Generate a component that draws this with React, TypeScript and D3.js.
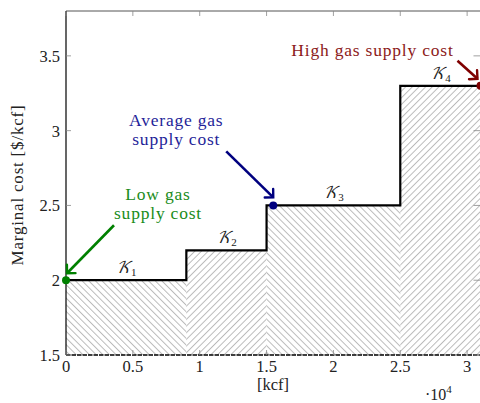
import React from "react";
import * as d3 from "d3";

// ---- data ----
const stepEdges = [0, 9000, 15000, 25000, 31000];
const stepCosts = [2.0, 2.2, 2.5, 3.3];
const stepLabels = ["1", "2", "3", "4"];
const xTicks = [0, 5000, 10000, 15000, 20000, 25000, 30000];
const xTickLabels = ["0", "0.5", "1", "1.5", "2", "2.5", "3"];
const yTicks = [1.5, 2, 2.5, 3, 3.5];
const yTickLabels = ["1.5", "2", "2.5", "3", "3.5"];
const annoNames = ["Low gas|supply cost", "Average gas|supply cost", "High gas supply cost"];
const annoX = [0, 15500, 31000];
const annoY = [2.0, 2.5, 3.3];
const annoColors = ["#008000", "#00007f", "#7f0000"];
const annoTextColors = ["#1a8c1a", "#1f1f99", "#8c1a1a"];

const W = 480, H = 403;
const FONT = "'Liberation Serif', 'DejaVu Serif', serif";

export default function App() {
  const x = d3.scaleLinear().domain([0, 31000]).range([66, 480.5]);
  const y = d3.scaleLinear().domain([1.5, 3.8]).range([355, 11]);
  const [x0, x1] = x.range();
  const [yb, yt] = y.range();

  const pts: [number, number][] = stepCosts.map((c, i) => [stepEdges[i], c]);
  pts.push([stepEdges[stepEdges.length - 1], stepCosts[stepCosts.length - 1]]);
  const stepLine = d3
    .line<[number, number]>()
    .x((d) => x(d[0]))
    .y((d) => y(d[1]))
    .curve(d3.curveStepAfter)(pts);

  // arrow geometry (offsets from target points, px)
  const arrowFrom = [[48, -55], [-47, -54], [-23, -25]];
  const arrowTo = [[1, -7], [0, -8], [-3, -7]];
  const textPos = [[92, -80, -61], [-97, -79, -60], [-108, -30, 0]];

  return (
    <svg width={W} height={H} style={{ position: "absolute", left: 0, top: 0 }} fontFamily={FONT}>
      <defs>
        <pattern id="hatchA" patternUnits="userSpaceOnUse" width={4.7} height={10} patternTransform="rotate(-45)">
          <line x1={0.5} y1={0} x2={0.5} y2={10} stroke="#a8a8a8" strokeWidth={0.8} />
        </pattern>
        <pattern id="hatchB" patternUnits="userSpaceOnUse" width={4.7} height={10} patternTransform="rotate(45)">
          <line x1={0.5} y1={0} x2={0.5} y2={10} stroke="#a8a8a8" strokeWidth={0.8} />
        </pattern>
        {annoColors.map((c, i) => (
          <marker key={i} id={`arr${i}`} viewBox="-10 -10 20 20" markerWidth={20} markerHeight={20}
            refX={0} refY={0} orient="auto" markerUnits="userSpaceOnUse">
            <path d="M-6,-6 L0,0 L-6,6" fill="none" stroke={c} strokeWidth={2.4} strokeLinecap="round" />
          </marker>
        ))}
      </defs>

      {/* hatched areas */}
      {stepCosts.map((c, i) => (
        <rect key={i} x={x(stepEdges[i])} y={y(c)} width={x(stepEdges[i + 1]) - x(stepEdges[i])}
          height={yb - y(c)} fill={i % 2 === 0 ? "url(#hatchA)" : "url(#hatchB)"} />
      ))}

      {/* axes frame */}
      <line x1={x0} x2={x1} y1={yt} y2={yt} stroke="#555" strokeWidth={1} />
      <line x1={x0} x2={x1} y1={yb} y2={yb} stroke="#000" strokeWidth={1.3} strokeDasharray="4.5,1" />
      <line x1={x0} x2={x0} y1={yt} y2={yb} stroke="#000" strokeWidth={1.2} />

      {/* ticks */}
      {xTicks.map((t, i) => (
        <g key={i}>
          <line x1={x(t)} x2={x(t)} y1={yb} y2={yb - 5} stroke="#888" strokeWidth={0.8} />
          <line x1={x(t)} x2={x(t)} y1={yt} y2={yt + 5} stroke="#888" strokeWidth={0.8} />
          <text x={x(t)} y={yb + 17} textAnchor="middle" fontSize={16.5} fill="#222">{xTickLabels[i]}</text>
        </g>
      ))}
      {yTicks.map((t, i) => (
        <g key={i}>
          <line x1={x0} x2={x0 + 5} y1={y(t)} y2={y(t)} stroke="#888" strokeWidth={0.8} />
          <line x1={x1 - 7} x2={x1} y1={y(t)} y2={y(t)} stroke="#888" strokeWidth={0.8} />
          <text x={x0 - 6} y={y(t) + 6} textAnchor="end" fontSize={16.5} fill="#222">{yTickLabels[i]}</text>
        </g>
      ))}

      {/* step line */}
      <path d={stepLine || ""} fill="none" stroke="#000" strokeWidth={2.2} />

      {/* segment labels */}
      {stepLabels.map((l, i) => (
        <text key={i} x={x((stepEdges[i] + stepEdges[i + 1]) / 2)} y={y(stepCosts[i]) - 7}
          textAnchor="middle" fontSize={16} fill="#222">
          <tspan fontFamily="'DejaVu Math TeX Gyre', 'DejaVu Serif', serif" fontStyle="italic">𝒦</tspan>
          <tspan fontSize={11} dy={3}>{l}</tspan>
        </text>
      ))}

      {/* annotations */}
      {annoNames.map((n, i) => {
        const px = x(annoX[i]), py = y(annoY[i]);
        const lines = n.split("|");
        return (
          <g key={i}>
            <line x1={px + arrowFrom[i][0]} y1={py + arrowFrom[i][1]} x2={px + arrowTo[i][0]} y2={py + arrowTo[i][1]}
              stroke={annoColors[i]} strokeWidth={2.6} markerEnd={`url(#arr${i})`} />
            <circle cx={px} cy={py} r={4} fill={annoColors[i]} />
            {lines.map((ln, j) => (
              <text key={j} x={px + textPos[i][0]} y={py + textPos[i][1 + j]} textAnchor="middle"
                fontSize={17.5} letterSpacing={0.8} fill={annoTextColors[i]}>{ln}</text>
            ))}
          </g>
        );
      })}

      {/* axis labels */}
      <text transform="translate(23,185) rotate(-90)" textAnchor="middle" fontSize={17} letterSpacing={0.8} fill="#222">Marginal cost [$/kcf]</text>
      <text x={273} y={390} textAnchor="middle" fontSize={16.5} fill="#222">[kcf]</text>
      <text x={425} y={400} fontSize={16} fill="#222">·10<tspan fontSize={11} dy={-7}>4</tspan></text>
    </svg>
  );
}
